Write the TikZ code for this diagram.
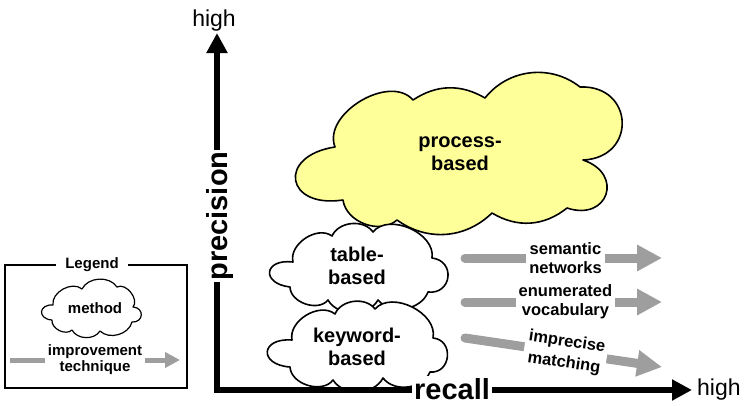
\documentclass[tikz,border=0pt]{standalone}
\usepackage{fontspec}
\setmainfont{Liberation Sans}
\usetikzlibrary{arrows.meta}
\definecolor{cloudyellow}{RGB}{255,255,153}
\definecolor{arrowgray}{RGB}{158,158,158}
\begin{document}
\begin{tikzpicture}[x=1pt,y=-1pt,
  cloudline/.style={draw=black, line width=1.6pt, line join=round},
  cloudlbl/.style={font=\fontsize{20}{23}\selectfont\bfseries, align=center, inner sep=0pt},
  techlbl/.style={font=\fontsize{16.5}{19}\selectfont\bfseries, align=center, fill=white, inner xsep=3pt, inner ysep=0pt},
  techarrow/.style={draw=arrowgray, line width=9pt, line cap=round, -{Triangle[length=25pt,width=25pt]}},
  axisline/.style={draw=black, line width=6pt, line cap=rect, -{Triangle[length=20pt,width=20pt]}},
  axislbl/.style={font=\fontsize{29}{32}\selectfont\bfseries, fill=white, inner sep=2pt},
  highlbl/.style={font=\fontsize{23}{26}\selectfont, inner sep=0pt},
  legendlbl/.style={font=\fontsize{15}{16}\selectfont\bfseries, align=center},
]
\useasboundingbox (0,0) rectangle (744,405);

% process-based cloud
\path[cloudline, fill=cloudyellow] (335,147) to[bend left=80] (413,100) to[bend left=32] (485,98)
  to[bend left=45] (580,87) to[bend left=90, looseness=1.9] (583,160)
  to[bend left=90, looseness=2.2] (567,208) to[bend left=35] (492,213)
  to[bend left=40] (397,220) to[bend left=62] (343,200)
  to[bend left=90, looseness=2.8] (335,147) -- cycle;
\node[cloudlbl] (process) at (460,154) {process-\\based};

% table-based cloud
\path[cloudline, fill=white] (293,262) to[bend left=70] (332,236) to[bend left=60] (373,232)
  to[bend left=75] (432,258) to[bend left=90, looseness=1.8] (428,292)
  to[bend left=60] (378,300) to[bend left=60] (328,300) to[bend left=70] (290,287)
  to[bend left=90, looseness=3] (293,262) -- cycle;
\node[cloudlbl] (table) at (357,266) {table-\\based};

% keyword-based cloud
\path[cloudline, fill=white] (292,340) to[bend left=70] (335,314) to[bend left=60] (375,309)
  to[bend left=75] (433,338) to[bend left=90, looseness=1.6] (430,372)
  to[bend left=60] (383,378) to[bend left=60] (333,380) to[bend left=70] (290,367)
  to[bend left=90, looseness=3] (292,340) -- cycle;
\node[cloudlbl] (keyword) at (357,347) {keyword-\\based};

% improvement techniques
\coordinate (s0) at (465,258); \coordinate (s1) at (662,258);
\draw[techarrow] (s0) -- (s1) node[techlbl, pos=0.51] (semantic) {semantic\\networks};
\coordinate (e0) at (465,302); \coordinate (e1) at (662,302);
\draw[techarrow] (e0) -- (e1) node[techlbl, pos=0.51] (enumerated) {enumerated\\vocabulary};
\coordinate (i0) at (465,338); \coordinate (i1) at (662,367);
\draw[techarrow] (i0) -- (i1) node[techlbl, font=\fontsize{16.5}{21}\selectfont\bfseries, pos=0.51, sloped] (imprecise) {imprecise\\matching};

% axes
\coordinate (corner) at (217,390);
\coordinate (ytip) at (217,33);
\coordinate (xtip) at (692,390);
\draw[axisline] (corner) -- (ytip);
\draw[axisline] (corner) -- (xtip);
\node[axislbl, rotate=90] (precision) at (220,216) {precision};
\node[axislbl, anchor=base] (recall) at (452,399) {recall};
\node[highlbl, anchor=base] (yhigh) at (214,26) {high};
\node[highlbl, anchor=base west] (xhigh) at (697,395) {high};

% legend
\draw[line width=1.2pt] (5,265) rectangle (187,388);
\node[legendlbl, fill=white, inner xsep=9pt, inner ysep=1pt] (legend) at (92,265) {Legend};
\path[cloudline, line width=1.2pt, fill=white] (53,305) to[bend left=70] (82,289) to[bend left=60] (117,287)
  to[bend left=80] (133,307) to[bend left=90, looseness=2] (132,322)
  to[bend left=60] (100,331) to[bend left=60] (72,330) to[bend left=70] (52,320)
  to[bend left=90, looseness=2.5] (53,305) -- cycle;
\node[legendlbl, inner sep=0pt] (method) at (95,308) {method};
\coordinate (l0) at (10,360); \coordinate (l1) at (180,360);
\draw[draw=arrowgray, line width=5pt, -{Triangle[length=15pt,width=15pt]}] (l0) -- (l1)
  node[legendlbl, midway, fill=white, inner xsep=3pt, inner ysep=0pt] (improvement) {improvement\\technique};
\end{tikzpicture}
\end{document}
